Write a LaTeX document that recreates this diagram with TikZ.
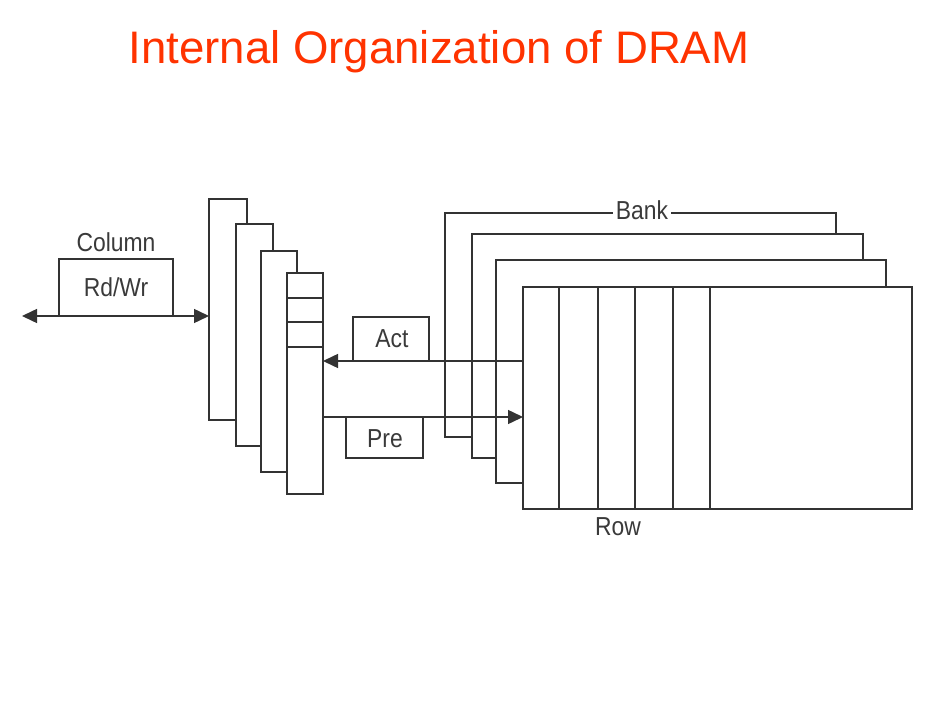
\documentclass[tikz,border=0pt]{standalone}
\usepackage{fontspec}
\setmainfont{Liberation Sans}
\newfontfamily\lblfont[FakeStretch=0.88]{Liberation Sans}
\usetikzlibrary{arrows.meta}
\definecolor{titlered}{HTML}{FF3300}
\definecolor{ink}{HTML}{333333}
\definecolor{txt}{HTML}{3A3A3A}
\tikzset{
  box/.style={draw=ink, fill=white, line width=1.5pt, inner sep=0pt, outer sep=0pt},
  ln/.style={draw=ink, line width=1.5pt},
  lbl/.style={font=\lblfont\fontsize{26}{28}\selectfont, text=txt, inner sep=0pt, anchor=base},
  arr/.style={ln, -{Triangle[length=15pt,width=14pt]}},
  darr/.style={ln, {Triangle[length=15pt,width=14pt]}-{Triangle[length=15pt,width=14pt]}}
}
% rectangle helper: name, left, top, right, bottom
\newcommand{\rbox}[5]{\node[box, minimum width={(#4-#2)*1pt}, minimum height={(#5-#3)*1pt}] (#1) at ({(#2+#4)/2},{(#3+#5)/2}) {};}
\begin{document}
\begin{tikzpicture}[x=1pt,y=-1pt]
\path[fill=white] (0,0) rectangle (940,706);
\useasboundingbox (0,0) rectangle (940,706);

\node[font=\fontsize{45.6}{50}\selectfont, text=titlered, inner sep=0pt, anchor=base] (title) at (439,64) {Internal Organization of DRAM};

% column-side stack
\rbox{s1}{209}{199}{247}{420}
\rbox{s2}{236}{224}{273}{446}
\rbox{s3}{261}{251}{297}{472}
\rbox{s4}{287}{273}{323}{494}
\coordinate (d1) at (287,298); \coordinate (d2) at (287,322); \coordinate (d3) at (287,347);
\draw[ln] (d1) -- (d1 -| s4.east);
\draw[ln] (d2) -- (d2 -| s4.east);
\draw[ln] (d3) -- (d3 -| s4.east);

% Rd/Wr box
\rbox{rw}{59}{259}{173}{316}
\node[lbl] (column) at (116,251) {Column};
\node[lbl] (rwt) at (116,296) {Rd/Wr};
\coordinate (ext) at (22,316);
\draw[darr] (ext) -- (s1.west |- rw.south);

% banks
\rbox{b1}{445}{213}{836}{437}
\node[lbl, fill=white, inner xsep=3pt, inner ysep=0pt] (bank) at (642,219) {Bank};
\rbox{b2}{472}{234}{863}{458}
\rbox{b3}{496}{260}{886}{483}
\rbox{b4}{523}{287}{912}{509}
\foreach \i/\x in {1/559,2/598,3/635,4/673,5/710}{
  \coordinate (c\i) at (\x,287);
  \draw[ln] (c\i) -- (c\i |- b4.south);
}
\node[lbl] (row) at (618,535) {Row};

% Act / Pre
\rbox{act}{353}{317}{429}{361}
\node[lbl] (actt) at (392,347) {Act};
\rbox{pre}{346}{417}{423}{458}
\node[lbl] (pret) at (385,447) {Pre};
\draw[arr] (b4.west |- act.south) -- (s4.east |- act.south);
\draw[arr] (s4.east |- pre.north) -- (b4.west |- pre.north);
\end{tikzpicture}
\end{document}
